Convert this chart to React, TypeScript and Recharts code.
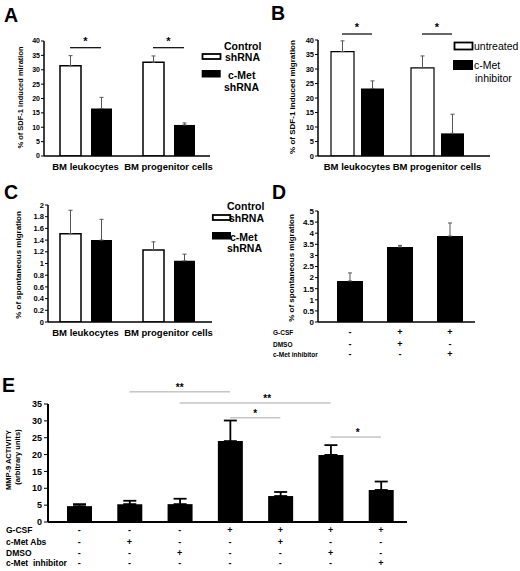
import React from 'react'
import { BarChart, Bar, XAxis, YAxis, ErrorBar, ReferenceLine } from 'recharts'

const FONT = '"Liberation Sans", Arial, Helvetica, sans-serif'

// shared categories for panels A-C
const groups = ['BM leukocytes', 'BM progenitor cells']

// A: SDF-1 induced migration, shRNA
const aControl = [31.4, 32.6]
const aControlErr = [3.5, 2.2]
const aMet = [16.5, 10.8]
const aMetErr = [3.9, 0.7]
const aTicks = [0, 5, 10, 15, 20, 25, 30, 35, 40]

// B: SDF-1 induced migration, c-Met inhibitor
const bUntreated = [36.0, 30.4]
const bUntreatedErr = [3.7, 4.1]
const bInhibitor = [23.3, 7.8]
const bInhibitorErr = [2.6, 6.6]
const bTicks = [0, 5, 10, 15, 20, 25, 30, 35, 40]

// C: spontaneous migration, shRNA
const cControl = [1.51, 1.23]
const cControlErr = [0.4, 0.14]
const cMet = [1.4, 1.045]
const cMetErr = [0.355, 0.115]
const cTicks = [0, 0.2, 0.4, 0.6, 0.8, 1, 1.2, 1.4, 1.6, 1.8, 2]

// D: spontaneous migration after G-CSF
const dConditions = ['d1', 'd2', 'd3']
const dValues = [1.85, 3.38, 3.87]
const dErr = [0.36, 0.07, 0.59]
const dTicks = [0, 0.5, 1, 1.5, 2, 2.5, 3, 3.5, 4, 4.5, 5]
const dRows = ['G-CSF', 'DMSO', 'c-Met inhibitor']
const dTable = [
  ['-', '+', '+'],
  ['-', '+', '-'],
  ['-', '-', '+'],
]

// E: MMP-9 activity
const eConditions = ['e1', 'e2', 'e3', 'e4', 'e5', 'e6', 'e7']
const eValues = [4.7, 5.3, 5.3, 24.0, 7.7, 19.9, 9.5]
const eErr = [0.6, 1.0, 1.6, 6.1, 1.2, 2.9, 2.5]
const eTicks = [0, 5, 10, 15, 20, 25, 30, 35]
const eRows = ['G-CSF', 'c-Met Abs', 'DMSO', 'c-Met  inhibitor']
const eTable = [
  ['-', '-', '-', '+', '+', '+', '+'],
  ['-', '+', '-', '-', '+', '-', '-'],
  ['-', '-', '+', '-', '-', '+', '-'],
  ['-', '-', '-', '-', '-', '-', '+'],
]
// significance brackets: from, to, level, mark
const eSigFrom = ['e2', 'e3', 'e4', 'e6']
const eSigTo = ['e4', 'e6', 'e5', 'e7']
const eSigLevel = [38.6, 35.3, 30.9, 25.2]
const eSigMark = ['**', '**', '*', '*']
const eSigShift = [0, 12, 0, 2]

const YW = 30

// chart box so the plot area lands on [x0,x1] x [y0,y1] of the page
function frame(x0: number, x1: number, y0: number, y1: number, xh: number) {
  return {
    width: x1 + 10,
    height: y1 + xh + 10,
    margin: { top: y0, left: x0 - YW, right: 10, bottom: 10 },
  }
}

const tickFont = (size: number) => ({ fontSize: size, fontWeight: 700, fill: '#000', fontFamily: FONT })

const pairRows = (a: number[], ae: number[], b: number[], be: number[]) =>
  groups.map((g, i) => ({ name: g, a: a[i], aErr: [0, ae[i]], b: b[i], bErr: [0, be[i]] }))

const aData = pairRows(aControl, aControlErr, aMet, aMetErr)
const bData = pairRows(bUntreated, bUntreatedErr, bInhibitor, bInhibitorErr)
const cData = pairRows(cControl, cControlErr, cMet, cMetErr)
const dData = dConditions.map((c, i) => ({ name: c, v: dValues[i], err: [0, dErr[i]] }))
const eData = eConditions.map((c, i) => ({ name: c, v: eValues[i], err: [0, eErr[i]] }))

// +/- table drawn under each category as its tick
const tableTick = (table: string[][], offsets: number[], size: number) => (props: any) => {
  const { x, y } = props
  const idx = props.index ?? props.payload?.index ?? 0
  return (
    <g>
      {table.map((row, r) => (
        <text key={r} x={x} y={y + offsets[r] + size * 0.36} textAnchor="middle" style={tickFont(size)}>
          {row[idx]}
        </text>
      ))}
    </g>
  )
}

function PairChart({ data, ticks, domain, x0, x1, y0, y1, barSize, barGap, padding, tickSize, whiteStroke }: any) {
  const f = frame(x0, x1, y0, y1, 20)
  return (
    <div style={{ position: 'absolute', left: 0, top: 0 }}>
      <BarChart width={f.width} height={f.height} margin={f.margin} data={data} barGap={barGap} barCategoryGap={0}>
        <XAxis
          dataKey="name"
          interval={0}
          height={20}
          padding={padding}
          tickLine={false}
          tickSize={4}
          tickMargin={3}
          axisLine={{ stroke: '#000', strokeWidth: 1.5 }}
          tick={tickFont(9.5)}
        />
        <YAxis
          width={YW}
          domain={domain}
          ticks={ticks}
          interval={0}
          allowDataOverflow
          tickSize={3}
          tickMargin={1}
          tickLine={{ stroke: '#000' }}
          axisLine={{ stroke: '#000', strokeWidth: 1.5 }}
          tick={tickFont(tickSize)}
        />
        <Bar dataKey="a" fill="#fff" stroke="#000" strokeWidth={whiteStroke} barSize={barSize} isAnimationActive={false}>
          <ErrorBar dataKey="aErr" width={2} stroke="#555" strokeWidth={1} />
        </Bar>
        <Bar dataKey="b" fill="#000" barSize={barSize} isAnimationActive={false}>
          <ErrorBar dataKey="bErr" width={2} stroke="#555" strokeWidth={1} />
        </Bar>
      </BarChart>
    </div>
  )
}

function PanelD() {
  const f = frame(318, 475, 211, 322, 40)
  return (
    <div style={{ position: 'absolute', left: 0, top: 0 }}>
      <BarChart width={f.width} height={f.height} margin={f.margin} data={dData}>
        <XAxis
          dataKey="name"
          interval={0}
          height={40}
          padding={{ left: 7, right: 0 }}
          tickLine={false}
          tickSize={0}
          tickMargin={0}
          axisLine={{ stroke: '#000', strokeWidth: 1.5 }}
          tick={tableTick(dTable, [10, 22, 32], 9)}
        />
        <YAxis
          width={YW}
          domain={[0, 5]}
          ticks={dTicks}
          interval={0}
          tickSize={3}
          tickMargin={1}
          tickLine={{ stroke: '#000' }}
          axisLine={{ stroke: '#000', strokeWidth: 1.5 }}
          tick={tickFont(8)}
        />
        <Bar dataKey="v" fill="#000" barSize={26} isAnimationActive={false}>
          <ErrorBar dataKey="err" width={2} stroke="#555" strokeWidth={1} />
        </Bar>
      </BarChart>
    </div>
  )
}

function PanelE() {
  const f = frame(48, 407, 404, 522, 46)
  return (
    <div style={{ position: 'absolute', left: 0, top: 0 }}>
      <BarChart width={f.width} height={f.height} margin={f.margin} data={eData}>
        <XAxis
          dataKey="name"
          interval={0}
          height={46}
          padding={{ left: 6, right: 1 }}
          tickLine={false}
          tickSize={0}
          tickMargin={0}
          axisLine={{ stroke: '#000', strokeWidth: 2 }}
          tick={tableTick(eTable, [8, 20, 31, 41], 9)}
        />
        <YAxis
          width={YW}
          domain={[0, 35]}
          ticks={eTicks}
          interval={0}
          tickSize={4}
          tickMargin={2}
          tickLine={{ stroke: '#000' }}
          axisLine={{ stroke: '#000', strokeWidth: 2 }}
          tick={tickFont(9)}
        />
        <Bar dataKey="v" fill="#000" barSize={25} isAnimationActive={false}>
          <ErrorBar dataKey="err" width={6.5} stroke="#000" strokeWidth={1.8} />
        </Bar>
        {eSigFrom.map((from, i) => (
          <ReferenceLine
            key={i}
            ifOverflow="visible"
            segment={[
              { x: from, y: eSigLevel[i] },
              { x: eSigTo[i], y: eSigLevel[i] },
            ]}
            stroke="#a8a8a8"
            strokeWidth={1}
            label={{ value: eSigMark[i], position: 'top', offset: 1, dx: eSigShift[i], ...tickFont(10) }}
          />
        ))}
      </BarChart>
    </div>
  )
}

function VLabel({ cx, cy, size, children }: any) {
  return (
    <text
      transform={`translate(${cx + size * 0.36},${cy}) rotate(-90)`}
      textAnchor="middle"
      style={tickFont(size)}
    >
      {children}
    </text>
  )
}

function Overlay() {
  const letter = { fontSize: 19.5, fontWeight: 700, fill: '#000', fontFamily: FONT }
  const leg = { fontSize: 10.5, fontWeight: 700, fill: '#000', fontFamily: FONT }
  const legB = { fontSize: 10.5, fontWeight: 400, fill: '#000', fontFamily: FONT }
  const star = { fontSize: 11, fontWeight: 700, fill: '#000', fontFamily: FONT }
  const rowD = { fontSize: 6.5, fontWeight: 700, fill: '#000', fontFamily: FONT }
  const rowE = { fontSize: 8.5, fontWeight: 700, fill: '#000', fontFamily: FONT }
  return (
    <svg width={520} height={571} style={{ position: 'absolute', left: 0, top: 0, pointerEvents: 'none' }}>
      <text x={4} y={22} style={letter}>A</text>
      <text x={271} y={20} style={letter}>B</text>
      <text x={4} y={199} style={letter}>C</text>
      <text x={272} y={199} style={letter}>D</text>
      <text x={2} y={392} style={letter}>E</text>

      <VLabel cx={20} cy={97.5} size={7.5}>% of SDF-1 induced miration</VLabel>
      <VLabel cx={292} cy={97} size={8}>% of SDF-1 induced migration</VLabel>
      <VLabel cx={18.5} cy={265} size={8}>% of spontaneous migration</VLabel>
      <VLabel cx={291} cy={268} size={8}>% of spontaneous migration</VLabel>
      <VLabel cx={8.5} cy={460} size={7.5}>MMP-9 ACTIVITY</VLabel>
      <VLabel cx={17} cy={457} size={7.5}>(arbitrary units)</VLabel>

      {/* A legend */}
      <text x={224} y={50} style={leg}>Control</text>
      <rect x={202.5} y={54} width={18} height={5} fill="#fff" stroke="#000" strokeWidth={1.8} />
      <text x={225} y={61} style={leg}>shRNA</text>
      <rect x={201.7} y={70} width={19} height={7.5} fill="#000" />
      <text x={228} y={78.5} style={leg}>c-Met</text>
      <text x={224} y={91} style={leg}>shRNA</text>

      {/* B legend */}
      <rect x={454.5} y={42.5} width={18} height={7} fill="#fff" stroke="#000" strokeWidth={1.8} />
      <text x={474} y={50} style={legB}>untreated</text>
      <rect x={453} y={60} width={20} height={10} fill="#000" />
      <text x={474} y={69} style={legB}>c-Met</text>
      <text x={475} y={81.5} style={legB}>inhibitor</text>

      {/* C legend */}
      <text x={227} y={210} style={leg}>Control</text>
      <rect x={212.8} y={215} width={17.5} height={5} fill="#fff" stroke="#000" strokeWidth={1.8} />
      <text x={229} y={222} style={leg}>shRNA</text>
      <rect x={212} y={232} width={19} height={7.5} fill="#000" />
      <text x={230} y={240.5} style={leg}>c-Met</text>
      <text x={227} y={252} style={leg}>shRNA</text>

      {/* A / B significance */}
      <line x1={70} x2={101} y1={47.7} y2={47.7} stroke="#000" strokeWidth={1.2} />
      <line x1={153} x2={184} y1={47.7} y2={47.7} stroke="#000" strokeWidth={1.2} />
      <text x={85.5} y={44.5} textAnchor="middle" style={star}>*</text>
      <text x={168.5} y={44.5} textAnchor="middle" style={star}>*</text>
      <line x1={342} x2={372} y1={34} y2={34} stroke="#000" strokeWidth={1.2} />
      <line x1={422} x2={452} y1={34} y2={34} stroke="#000" strokeWidth={1.2} />
      <text x={357} y={31} textAnchor="middle" style={star}>*</text>
      <text x={437} y={31} textAnchor="middle" style={star}>*</text>

      {/* table row names */}
      {dRows.map((r, i) => (
        <text key={r} x={273} y={[334.5, 346.5, 356.5][i]} style={rowD}>{r}</text>
      ))}
      {eRows.map((r, i) => (
        <text key={r} x={6} y={[533, 545, 556, 566][i]} style={{ ...rowE, whiteSpace: 'pre' }}>{r}</text>
      ))}
    </svg>
  )
}

export default function App() {
  return (
    <div style={{ position: 'absolute', left: 0, top: 0, width: 520, height: 571, background: '#fff', overflow: 'hidden', fontFamily: FONT }}>
      <PairChart
        data={aData}
        ticks={aTicks}
        domain={[0, 40]}
        x0={44}
        x1={210}
        y0={41}
        y1={156}
        barSize={21}
        barGap={10}
        padding={{ left: 0, right: 0 }}
        tickSize={7}
        whiteStroke={1.5}
      />
      <PairChart
        data={bData}
        ticks={bTicks}
        domain={[0, 40]}
        x0={318}
        x1={490}
        y0={40}
        y1={156}
        barSize={23}
        barGap={7}
        padding={{ left: -1, right: 13 }}
        tickSize={7.5}
        whiteStroke={1.2}
      />
      <PairChart
        data={cData}
        ticks={cTicks}
        domain={[0, 2]}
        x0={48}
        x1={212}
        y0={205}
        y1={322}
        barSize={21}
        barGap={10}
        padding={{ left: -4, right: 2 }}
        tickSize={7.5}
        whiteStroke={1.5}
      />
      <PanelD />
      <PanelE />
      <Overlay />
    </div>
  )
}
